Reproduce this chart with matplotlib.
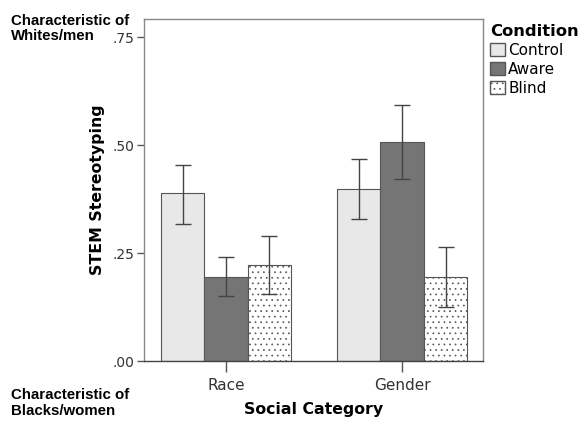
import numpy as np
import matplotlib.pyplot as plt
from matplotlib.patches import Patch

categories = ['Race', 'Gender']
conditions = ['Control', 'Aware', 'Blind']
means = {
    'Control': [0.388, 0.399],
    'Aware': [0.195, 0.508],
    'Blind': [0.223, 0.194],
}
ci_low = {
    'Control': [0.318, 0.328],
    'Aware': [0.150, 0.421],
    'Blind': [0.156, 0.124],
}
ci_high = {
    'Control': [0.455, 0.468],
    'Aware': [0.241, 0.594],
    'Blind': [0.289, 0.265],
}
yticks = [0.0, 0.25, 0.50, 0.75]
ytick_labels = ['.00', '.25', '.50', '.75']
top_note = ['Characteristic of', 'Whites/men']
bottom_note = ['Characteristic of', 'Blacks/women']

face = {'Control': '#e8e8e8', 'Aware': '#757575', 'Blind': 'white'}
hatch = {'Control': None, 'Aware': None, 'Blind': '...'}

plt.rcParams['hatch.color'] = '#b0b0b0'
plt.rcParams['hatch.linewidth'] = 0.5

fig = plt.figure(figsize=(5.8, 4.23), dpi=100)
ax = fig.add_axes([144 / 580, 1 - 361 / 423, (483 - 144) / 580, (361 - 19) / 423])

x = np.arange(len(categories))
width = 0.247
for k, cond in enumerate(conditions):
    pos = x + (k - 1) * width
    m = np.array(means[cond])
    lo = m - np.array(ci_low[cond])
    hi = np.array(ci_high[cond]) - m
    ax.bar(pos, m, width, color=face[cond], edgecolor='#555555', linewidth=0.8,
           hatch=hatch[cond], zorder=2)
    ax.errorbar(pos, m, yerr=[lo, hi], fmt='none', ecolor='#444444', elinewidth=1,
                capsize=6, capthick=1, zorder=3)

ax.set_xlim(-0.466, 1.46)
ax.set_ylim(0, 0.792)
ax.set_yticks(yticks)
ax.set_yticklabels(ytick_labels, fontsize=10, color='#333333')
ax.set_xticks(x)
ax.set_xticklabels(categories, fontsize=11, color='#333333')
ax.tick_params(axis='y', length=5, width=1, color='#555555', pad=2)
ax.tick_params(axis='x', length=8, width=1, color='#555555', pad=4)
for s in ax.spines.values():
    s.set_color('#888888')
    s.set_linewidth(1)
ax.spines['bottom'].set_color('#444444')

ax.set_ylabel('STEM Stereotyping', fontsize=11.3, fontweight='bold', labelpad=5)
ax.set_xlabel('Social Category', fontsize=11.3, fontweight='bold', labelpad=7)

# side notes, one line per text so they don't crowd the tick labels
note_kw = dict(ha='left', va='baseline', fontsize=10.8, fontweight='bold', family='Liberation Sans')
fig.text(11 / 580, 1 - 25 / 423, top_note[0], **note_kw)
fig.text(11 / 580, 1 - 40 / 423, top_note[1], **note_kw)
fig.text(11 / 580, 1 - 399 / 423, bottom_note[0], **note_kw)
fig.text(11 / 580, 1 - 415 / 423, bottom_note[1], **note_kw)

handles = [Patch(facecolor=face[c], edgecolor='#555555', hatch=hatch[c], label=c) for c in conditions]
leg = fig.legend(handles=handles, title='Condition', loc='upper left',
                 bbox_to_anchor=(490 / 580, 1 - 24 / 423), frameon=False,
                 fontsize=11, title_fontproperties={'weight': 'bold', 'size': 11.8},
                 handlelength=1.0, handleheight=1.0, handletextpad=0.2,
                 labelspacing=0.25, borderaxespad=0, borderpad=0)
leg._legend_box.align = 'left'

plt.savefig('out.png', dpi=100)
plt.close(fig)
